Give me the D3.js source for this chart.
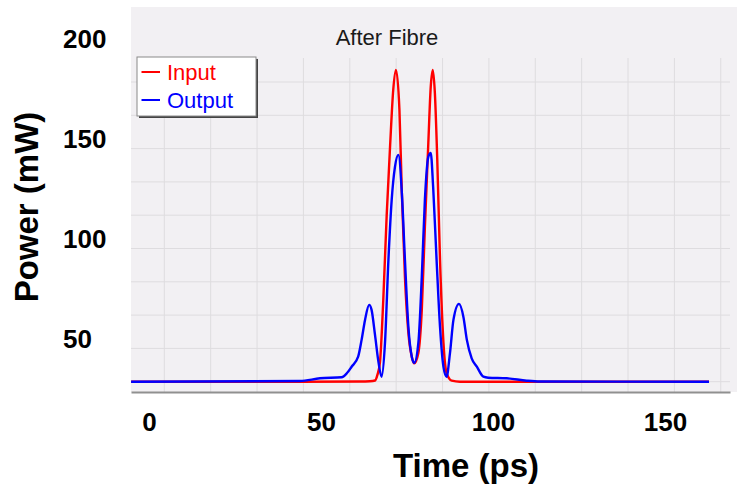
<!DOCTYPE html>
<html>
<head>
<meta charset="utf-8">
<script src="https://cdn.jsdelivr.net/npm/d3@7"></script>
<style>
  body { margin: 0; background: white; }
  text { font-family: "Liberation Sans", Arial, Helvetica, sans-serif; }
</style>
</head>
<body>
<div id="container"></div>
<script>
let w = 737;
let h = 486;

// tick labels
let xTicks = [0, 50, 100, 150];
let yTicks = [50, 100, 150, 200];

// series names
let seriesNames = ["Input", "Output"];
let seriesColors = ["#ff0000", "#0000ff"];

// (time in ps, power in mW)
let inputTime = [-5.2, 43.9, 61.3, 64.2, 65.7, 66.4, 67.15, 68.1, 69.1, 70.1, 71.0, 71.8, 72.8, 73.5, 74.4, 75.4,
  76.4, 77.1, 78.3, 79.3, 80.2, 81.2, 81.9, 82.5, 83.1, 83.8, 84.6, 85.6, 86.5, 88.0, 90.4, 162.8];
let inputPower = [28.5, 28.5, 28.6, 28.75, 29.1, 31.9, 38.4, 69.2, 111.9, 146.9, 174.4, 184.4, 164.4, 122.9, 80.9, 52.9,
  40.9, 37.7, 42.9, 64.4, 105.9, 147.9, 175.9, 184.4, 172.9, 139.4, 89.4, 47.9, 32.9, 29.0, 28.5, 28.5];

let outputTime = [-5.2, 43.9, 49.7, 56.0, 57.5, 58.9, 60.8, 61.8, 62.8, 64.0, 64.7, 65.7, 66.7, 67.6, 68.6, 69.6,
  70.55, 71.5, 72.5, 73.5, 74.4, 75.4, 76.4, 77.1, 78.3, 79.3, 80.2, 81.2, 81.9, 82.6, 83.6, 84.6,
  85.6, 86.5, 87.5, 88.5, 90.1, 91.4, 92.4, 93.8, 95.3, 97.2, 98.6, 104.0, 109.8, 113.7, 162.8];
let outputPower = [28.5, 28.85, 30.2, 30.7, 32.7, 36.0, 41.0, 49.4, 59.4, 66.9, 64.4, 51.9, 38.4, 31.0, 47.9, 89.4,
  119.4, 135.9, 141.9, 122.9, 89.4, 55.9, 40.9, 37.9, 47.9, 80.9, 119.4, 140.9, 142.9, 125.9, 89.4, 55.9,
  35.9, 31.0, 42.9, 59.4, 67.4, 60.9, 49.4, 40.2, 36.0, 31.0, 30.5, 30.2, 29.0, 28.6, 28.5];

// grid of the underlying instrument plot
let xGridStart = 4.45, xGridStep = 13.48, xGridCount = 13;
let yGridStart = 28.5, yGridStep = 16.65, yGridCount = 10;

let viz = d3.select("#container")
  .append("svg")
    .attr("width", w)
    .attr("height", h)
    .style("background-color", "white");

let plotLeft = 131, plotRight = 730, plotTop = 7, plotBottom = 392, gridTop = 58;

let xScale = d3.scaleLinear().domain([0, 150]).range([149, 665]);
xScale.domain([xScale.invert(plotLeft), xScale.invert(plotRight)]).range([plotLeft, plotRight]);

let yScale = d3.scaleLinear().domain([50, 200]).range([338.7, 38.7]);

// plot background
viz.append("rect")
  .attr("x", plotLeft).attr("y", plotTop)
  .attr("width", w - plotLeft).attr("height", plotBottom - plotTop)
  .attr("fill", "#f2f0f3");

// grid
let xGrid = d3.range(xGridCount).map(k => xGridStart + xGridStep * k);
let yGrid = d3.range(yGridCount).map(k => yGridStart + yGridStep * k);

viz.append("g").selectAll("line").data(xGrid).enter().append("line")
  .attr("x1", d => xScale(d)).attr("x2", d => xScale(d))
  .attr("y1", gridTop).attr("y2", plotBottom)
  .attr("stroke", "#dedcdf").attr("stroke-width", 1);

viz.append("g").selectAll("line").data(yGrid).enter().append("line")
  .attr("x1", plotLeft).attr("x2", plotRight)
  .attr("y1", d => yScale(d)).attr("y2", d => yScale(d))
  .attr("stroke", "#dedcdf").attr("stroke-width", 1);

// curves
let line = d3.line()
  .x(d => xScale(d[0]))
  .y(d => yScale(d[1]))
  .curve(d3.curveMonotoneX);

let inputData = inputTime.map((t, i) => [t, inputPower[i]]);
let outputData = outputTime.map((t, i) => [t, outputPower[i]]);

viz.append("path").datum(inputData)
  .attr("d", line).attr("fill", "none")
  .attr("stroke", seriesColors[0]).attr("stroke-width", 2.4);

viz.append("path").datum(outputData)
  .attr("d", line).attr("fill", "none")
  .attr("stroke", seriesColors[1]).attr("stroke-width", 2.4);

// x axis
let xAxis = d3.axisBottom(xScale).tickValues(xTicks).tickSize(0).tickPadding(21);
let xAxisGroup = viz.append("g").attr("class", "xaxis")
  .attr("transform", "translate(0, " + plotBottom + ")")
  .call(xAxis);
xAxisGroup.select(".domain").attr("stroke", "#909090").attr("stroke-width", 2);
xAxisGroup.selectAll("text")
  .style("font-family", "'Liberation Sans', Arial, sans-serif")
  .style("font-size", "26px").style("font-weight", "bold").attr("fill", "#000");

// y axis (labels only)
let yAxis = d3.axisLeft(yScale).tickValues(yTicks).tickSize(0).tickPadding(0);
let yAxisGroup = viz.append("g").attr("class", "yaxis")
  .attr("transform", "translate(63, 0)")
  .call(yAxis);
yAxisGroup.select(".domain").remove();
yAxisGroup.selectAll("text")
  .attr("x", 0).attr("text-anchor", "start")
  .style("font-family", "'Liberation Sans', Arial, sans-serif")
  .style("font-size", "26px").style("font-weight", "bold").attr("fill", "#000");

// titles
viz.append("text")
  .attr("x", 387).attr("y", 45)
  .attr("text-anchor", "middle")
  .style("font-size", "22px").attr("fill", "#1a1a1a")
  .text("After Fibre");

viz.append("text")
  .attr("x", 466).attr("y", 477)
  .attr("text-anchor", "middle")
  .style("font-size", "33px").style("font-weight", "bold")
  .text("Time (ps)");

viz.append("text")
  .attr("transform", "translate(38, 207) rotate(-90)")
  .attr("text-anchor", "middle")
  .style("font-size", "33px").style("font-weight", "bold")
  .text("Power (mW)");

// legend
let legend = viz.append("g").attr("transform", "translate(137, 57)");
legend.append("rect").attr("x", 2).attr("y", 2).attr("width", 119).attr("height", 59).attr("fill", "#444");
legend.append("rect").attr("x", 0).attr("y", 0).attr("width", 119).attr("height", 59)
  .attr("fill", "white").attr("stroke", "#8a8a8a").attr("stroke-width", 1);

let items = legend.selectAll(".item").data(seriesNames).enter().append("g")
  .attr("class", "item")
  .attr("transform", (d, i) => "translate(0, " + (15 + i * 28) + ")");
items.append("line")
  .attr("x1", 4.5).attr("x2", 23).attr("y1", 0).attr("y2", 0)
  .attr("stroke", (d, i) => seriesColors[i]).attr("stroke-width", 2);
items.append("text")
  .attr("x", 30).attr("y", 7.5)
  .style("font-size", "22px")
  .attr("fill", (d, i) => seriesColors[i])
  .text(d => d);
</script>
</body>
</html>
